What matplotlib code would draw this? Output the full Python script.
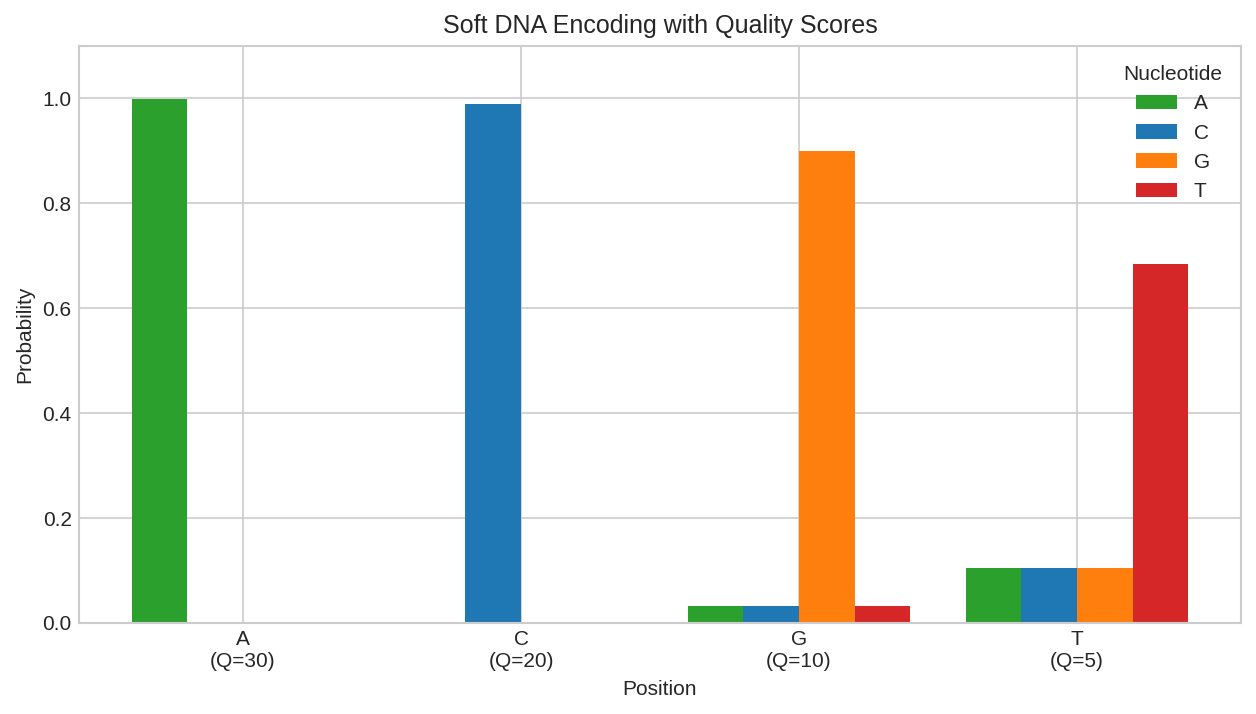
import numpy as np
import matplotlib.pyplot as plt

plt.style.use('seaborn-v0_8-whitegrid')
plt.rcParams['font.family'] = ['Liberation Sans', 'DejaVu Sans']

# positions and their quality scores
positions = ['A\n(Q=30)', 'C\n(Q=20)', 'G\n(Q=10)', 'T\n(Q=5)']
nucleotides = ['A', 'C', 'G', 'T']
colors = ['#2ca02c', '#1f77b4', '#ff7f0e', '#d62728']

# probabilities per nucleotide at each position
prob_A = [0.999, 0.001, 0.0333, 0.1054]
prob_C = [0.0003, 0.99, 0.0333, 0.1054]
prob_G = [0.0003, 0.001, 0.9, 0.1054]
prob_T = [0.0003, 0.001, 0.0333, 0.6838]
probs = [prob_A, prob_C, prob_G, prob_T]

fig, ax = plt.subplots(figsize=(1256 / 150, 714 / 150), dpi=150)
x = np.arange(len(positions))
w = 0.2
for i, (nuc, p) in enumerate(zip(nucleotides, probs)):
    ax.bar(x + (i - 1.5) * w, p, width=w, color=colors[i], label=nuc)

ax.set_xticks(x)
ax.set_xticklabels(positions)
ax.set_ylim(0, 1.1)
ax.set_xlabel('Position')
ax.set_ylabel('Probability')
ax.set_title('Soft DNA Encoding with Quality Scores')
ax.legend(title='Nucleotide', loc='upper right')
for s in ax.spines.values():
    s.set_visible(True)
    s.set_color('#cccccc')

fig.subplots_adjust(left=79 / 1256, right=1241 / 1256, top=1 - 46 / 714, bottom=1 - 623 / 714)
plt.savefig('out.png')
